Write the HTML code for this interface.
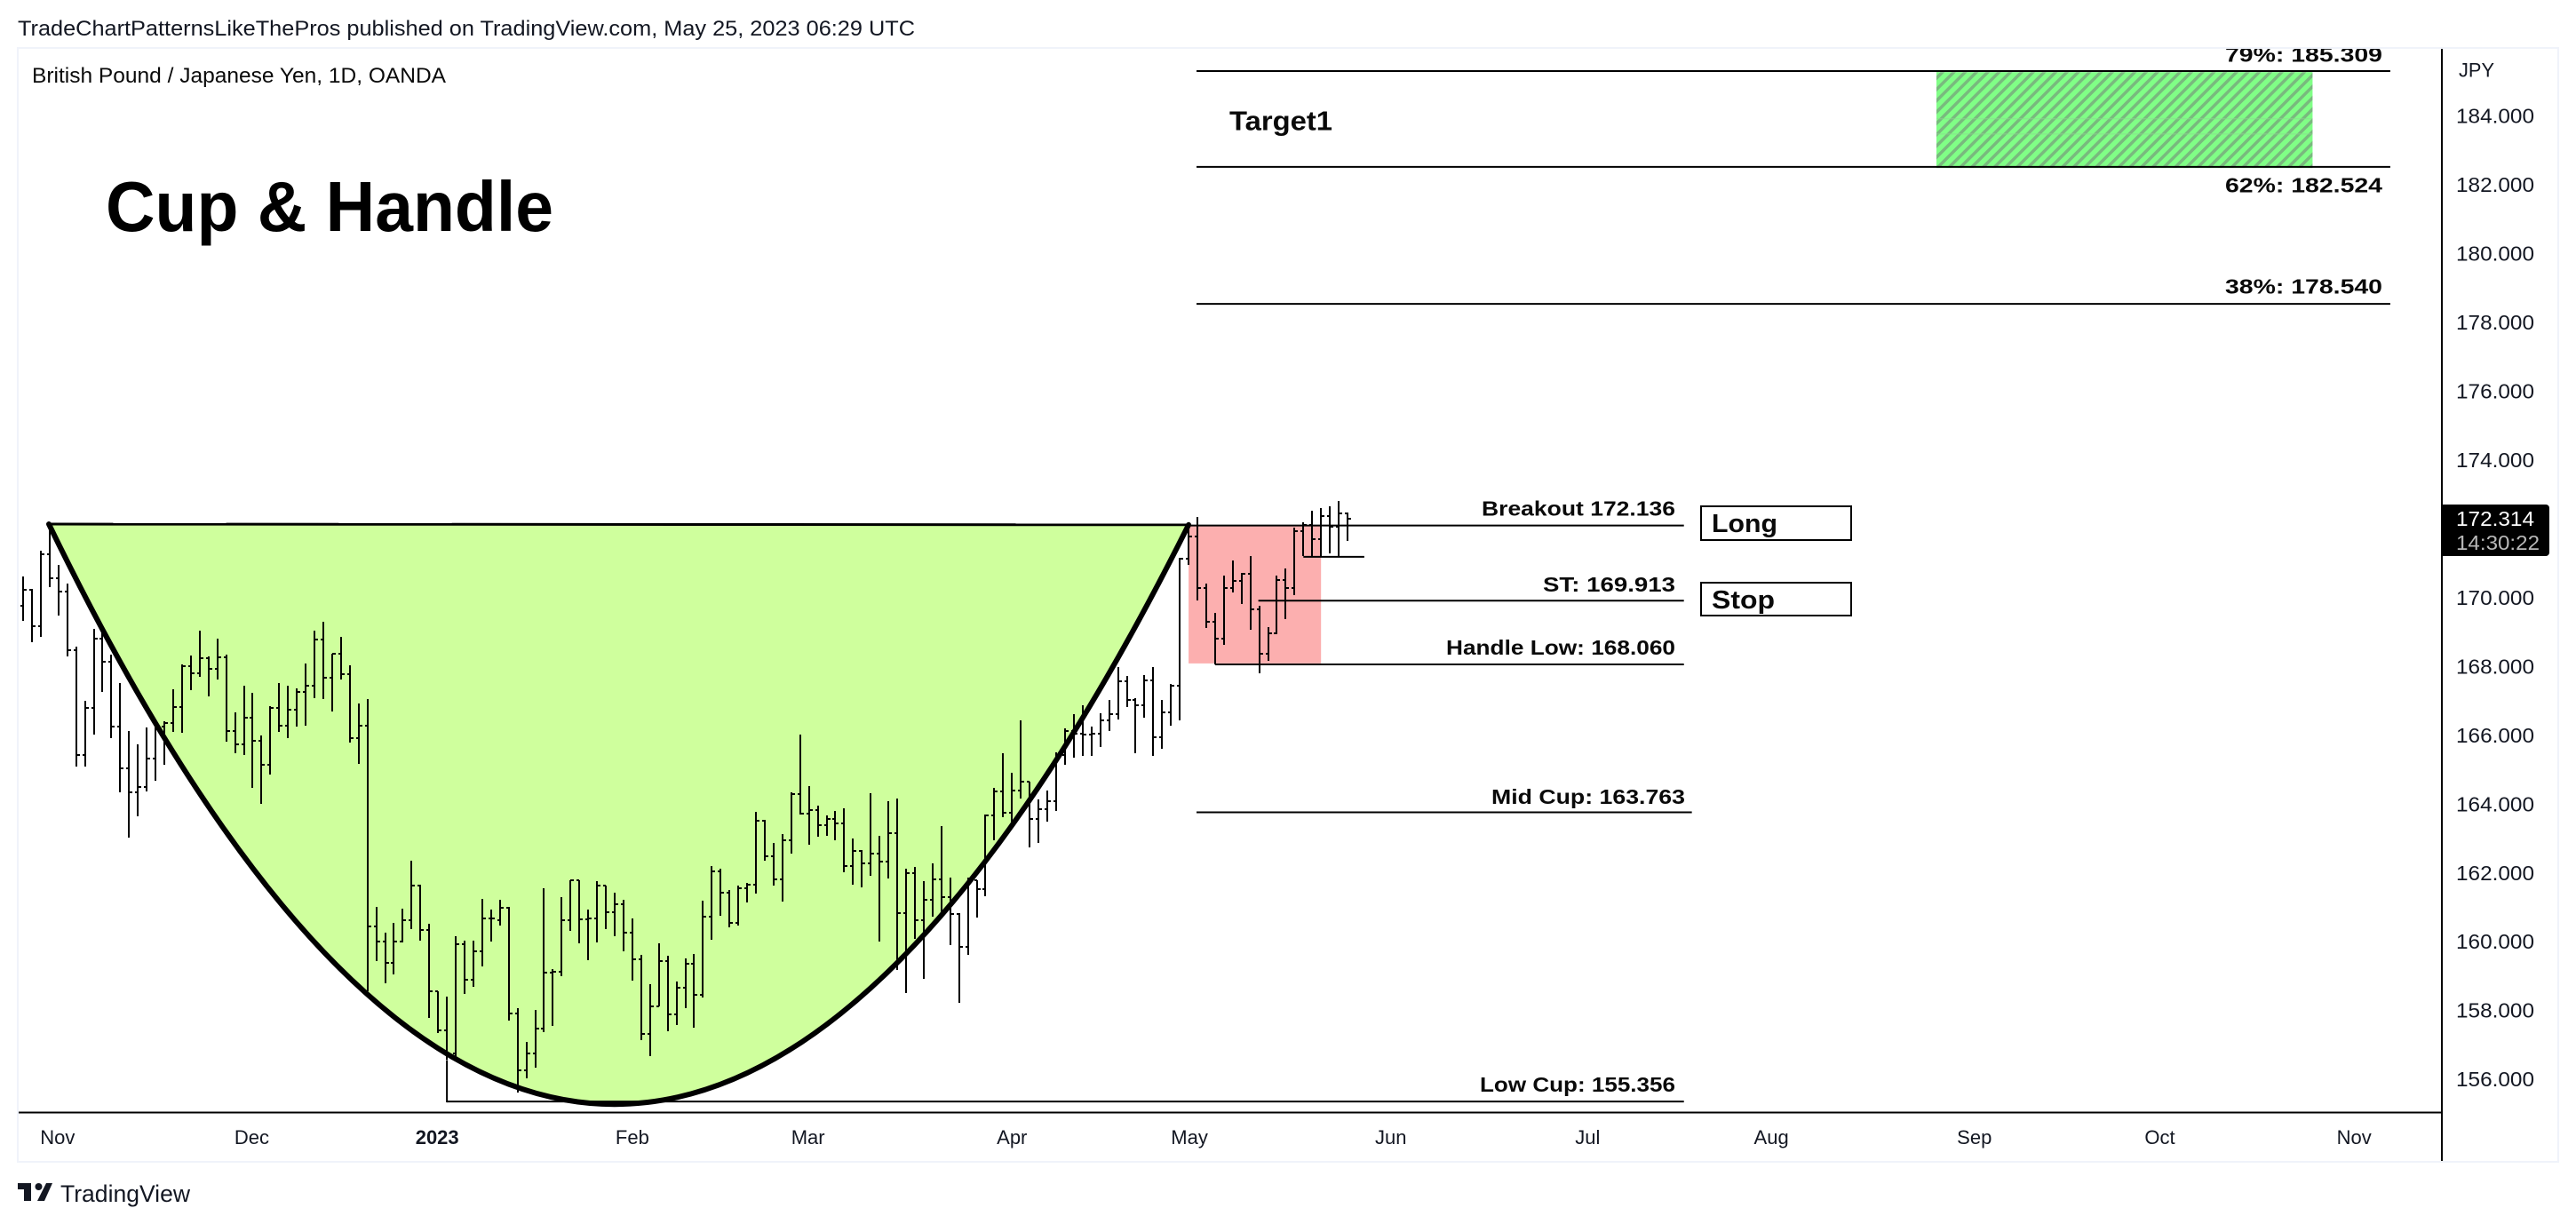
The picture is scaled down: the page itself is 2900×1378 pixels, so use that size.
<!DOCTYPE html>
<html lang="en">
<head>
<meta charset="utf-8">
<title>GBPJPY Cup and Handle</title>
<style>
html,body{margin:0;padding:0;background:#fff;width:2900px;height:1378px;overflow:hidden}
svg{display:block;font-family:"Liberation Sans",sans-serif}
.lvl{font-weight:bold;font-size:23px;fill:#0a0a0a}
.ax{font-size:22px;fill:#131722}
</style>
</head>
<body>
<svg id="chart" xmlns="http://www.w3.org/2000/svg" width="2900" height="1378" viewBox="0 0 2900 1378">
  <defs>
    <pattern id="hatch" patternUnits="userSpaceOnUse" width="9" height="9" patternTransform="rotate(45)">
      <rect width="9" height="9" fill="#80ff86"/>
      <rect width="3.5" height="9" fill="#79b97e"/>
    </pattern>
    <clipPath id="paneClip"><rect x="21" y="55" width="2728" height="1197"/></clipPath>
  </defs>
  <rect width="2900" height="1378" fill="#fff"/>
  <text x="20" y="40" font-size="24" fill="#131722" textLength="1010" lengthAdjust="spacingAndGlyphs">TradeChartPatternsLikeThePros published on TradingView.com, May 25, 2023 06:29 UTC</text>

  <g id="underlay" clip-path="url(#paneClip)"></g>
  <g id="bars" shape-rendering="crispEdges"></g>
  <g id="overlay" clip-path="url(#paneClip)"></g>

  <text x="36" y="93" font-size="24" fill="#0a0a0a" textLength="466" lengthAdjust="spacingAndGlyphs">British Pound / Japanese Yen, 1D, OANDA</text>
  <text x="119" y="260" font-size="80" font-weight="bold" fill="#000" textLength="504" lengthAdjust="spacingAndGlyphs">Cup &amp; Handle</text>

  <text x="1384" y="146.5" font-size="31" font-weight="bold" fill="#0a0a0a" textLength="116" lengthAdjust="spacingAndGlyphs">Target1</text>
  <g clip-path="url(#paneClip)">
    <text class="lvl" x="2505" y="69.3" textLength="177" lengthAdjust="spacingAndGlyphs">79%: 185.309</text>
  </g>
  <text class="lvl" x="2505" y="216.7" textLength="177" lengthAdjust="spacingAndGlyphs">62%: 182.524</text>
  <text class="lvl" x="2505" y="330.7" textLength="177" lengthAdjust="spacingAndGlyphs">38%: 178.540</text>
  <text class="lvl" x="1668" y="580.7" textLength="218" lengthAdjust="spacingAndGlyphs">Breakout 172.136</text>
  <text class="lvl" x="1737" y="666" textLength="149" lengthAdjust="spacingAndGlyphs">ST: 169.913</text>
  <text class="lvl" x="1628" y="737" textLength="258" lengthAdjust="spacingAndGlyphs">Handle Low: 168.060</text>
  <text class="lvl" x="1679" y="905" textLength="218" lengthAdjust="spacingAndGlyphs">Mid Cup: 163.763</text>
  <text class="lvl" x="1666" y="1229" textLength="220" lengthAdjust="spacingAndGlyphs">Low Cup: 155.356</text>

  <rect x="1915" y="570" width="169" height="38" fill="#fff" stroke="#000" stroke-width="2"/>
  <text x="1927" y="599" font-size="29" font-weight="bold" fill="#0a0a0a" textLength="74" lengthAdjust="spacingAndGlyphs">Long</text>
  <rect x="1915" y="656" width="169" height="37" fill="#fff" stroke="#000" stroke-width="2"/>
  <text x="1927" y="685" font-size="29" font-weight="bold" fill="#0a0a0a" textLength="71" lengthAdjust="spacingAndGlyphs">Stop</text>

  <g id="axes"></g>

  <rect x="20" y="54" width="2860" height="1254" fill="none" stroke="#f0f3fa" stroke-width="2"/>
  <line x1="2749" y1="55" x2="2749" y2="1307" stroke="#000" stroke-width="2"/>
  <line x1="21" y1="1252.5" x2="2750" y2="1252.5" stroke="#000" stroke-width="2"/>
  <text class="ax" x="2768" y="86.5" textLength="40" lengthAdjust="spacingAndGlyphs">JPY</text>

  <path d="M2750 568H2866a4 4 0 0 1 4 4V622a4 4 0 0 1 -4 4H2750Z" fill="#000"/>
  <text x="2765" y="592" font-size="23" fill="#fff" textLength="88" lengthAdjust="spacingAndGlyphs">172.314</text>
  <text x="2765" y="619" font-size="23" fill="#b8b8b8" textLength="94" lengthAdjust="spacingAndGlyphs">14:30:22</text>

  <g fill="#131722">
    <path d="M20 1332H35V1352H27V1339H20Z"/>
    <circle cx="43.5" cy="1336" r="4"/>
    <path d="M52 1332H59L50 1352H42Z"/>
    <text x="68" y="1353" font-size="27" textLength="146" lengthAdjust="spacingAndGlyphs">TradingView</text>
  </g>
</svg>
<script>
const opens = [169.77,170.23,169.17,171.26,170.57,170.18,168.47,165.43,166.80,168.81,
168.15,166.26,165.05,164.34,164.50,165.33,166.25,166.37,166.83,168.02,
167.80,168.24,167.94,168.27,166.12,165.75,166.52,165.85,165.14,166.80,
166.29,166.75,167.27,167.45,168.79,167.68,168.38,167.78,165.92,166.29,
160.45,160.01,159.38,160.01,160.63,161.62,160.34,158.56,157.43,156.74,
159.94,158.90,159.72,160.68,160.63,160.99,157.92,156.27,156.74,157.48,
159.11,159.14,160.63,161.79,160.65,160.68,161.64,160.86,161.10,160.26,
159.50,157.33,158.13,159.45,157.90,158.67,159.37,158.46,160.74,162.05,
161.43,160.56,161.56,161.67,163.53,162.49,161.81,162.96,164.29,163.72,
163.83,163.39,163.57,163.45,162.21,162.65,162.28,162.56,162.34,163.16,
160.84,162.00,160.63,161.23,161.82,161.30,160.81,159.86,161.79,161.54,
163.66,164.38,163.75,164.40,164.66,163.57,163.85,164.09,165.43,166.12,
166.06,166.03,166.06,166.44,166.62,167.58,167.03,166.87,167.60,165.95,
166.68,167.43,171.13,171.79,170.29,169.31,168.82,170.29,170.49,170.69,
169.67,168.38,168.96,170.52,170.27,171.93,172.12,171.70,172.37,172.06,172.46];
const highs = [170.61,170.26,171.37,172.14,170.96,170.40,168.59,166.99,169.10,169.04,
168.34,167.51,166.12,165.73,166.22,166.29,166.40,167.34,168.05,168.31,
169.04,168.30,168.80,168.35,166.68,167.43,167.23,165.99,166.84,167.51,
167.43,167.36,168.08,169.03,169.29,168.38,168.85,168.03,166.92,167.05,
161.02,160.26,160.54,160.95,162.35,161.67,160.51,158.57,158.40,160.17,
160.04,160.02,161.24,160.93,161.21,161.00,158.06,157.08,158.03,161.55,
159.21,161.29,161.80,161.78,160.93,161.75,161.64,161.42,161.21,160.67,
159.61,158.76,159.95,159.58,158.84,159.51,159.64,161.19,162.19,162.11,
161.51,161.64,161.72,163.77,163.55,162.86,163.12,164.35,166.01,164.52,
163.95,163.66,163.79,163.87,162.99,162.67,164.31,163.07,164.08,164.15,
162.11,162.18,161.75,162.27,163.35,161.86,160.84,161.86,161.79,163.69,
164.46,165.47,164.91,166.43,164.66,164.13,164.39,165.50,166.19,166.61,
166.87,166.25,166.63,167.02,167.98,167.72,167.09,167.74,167.98,167.02,
167.50,171.17,172.14,172.34,170.40,169.55,170.64,171.07,170.71,171.20,
169.76,169.14,170.64,170.84,172.03,172.18,172.52,172.60,172.65,172.80,172.47];
const lows = [169.32,168.70,168.85,170.32,169.47,168.30,165.08,165.10,166.01,167.27,
165.93,164.35,163.02,163.65,164.38,164.69,165.15,166.10,166.08,167.32,
167.71,167.14,167.61,165.82,165.49,165.44,164.48,164.02,164.87,166.11,
165.93,166.26,166.29,167.09,167.06,166.70,167.61,165.78,165.18,158.56,
159.45,158.78,159.04,159.99,160.38,160.02,157.79,157.34,156.56,156.65,
158.49,158.70,159.27,160.01,160.48,157.70,155.62,156.04,156.35,157.36,
157.54,159.01,160.32,159.96,159.47,159.99,160.38,160.17,159.73,158.88,
157.15,156.68,158.13,157.41,157.59,158.08,157.51,158.39,160.07,160.76,
160.43,160.48,161.15,161.41,162.36,161.64,161.18,162.57,163.70,162.83,
163.04,163.09,162.96,162.03,161.67,161.59,161.92,160.01,161.85,159.19,
158.52,160.09,158.93,160.74,160.78,159.91,158.23,159.63,160.71,161.33,
162.96,163.61,163.41,164.15,162.75,162.88,163.50,163.79,165.15,165.36,
165.39,165.39,165.67,166.13,166.47,166.81,165.49,166.52,165.39,165.62,
166.29,166.44,170.96,169.93,169.13,168.05,168.64,170.16,169.83,169.08,
167.81,168.17,168.93,169.39,170.08,171.20,171.20,171.20,171.28,171.20,171.66];
const closes = [170.23,169.17,171.26,170.57,170.18,168.47,165.43,166.80,168.81,168.15,
166.26,165.05,164.34,164.50,165.33,166.25,166.37,166.83,168.02,167.80,
168.24,167.94,168.27,166.12,165.75,166.52,165.85,165.14,166.80,166.29,
166.75,167.27,167.45,168.79,167.68,168.38,167.78,165.92,166.29,160.45,
160.01,159.38,160.01,160.63,161.62,160.34,158.56,157.43,156.74,159.94,
158.90,159.72,160.68,160.68,160.99,157.92,156.27,156.74,157.48,159.11,
159.14,160.63,161.79,160.65,160.68,161.64,160.86,161.10,160.26,159.50,
157.33,158.13,159.45,157.90,158.67,159.37,158.46,160.74,162.05,161.43,
160.56,161.56,161.67,163.53,162.49,161.81,162.96,164.29,163.72,163.83,
163.39,163.57,163.45,162.21,162.65,162.28,162.56,162.34,163.16,160.84,
162.00,160.63,161.23,161.82,161.30,160.81,159.86,161.79,161.54,163.66,
164.38,163.75,164.40,164.66,163.57,163.85,164.09,165.43,166.12,166.06,
166.03,166.06,166.44,166.62,167.58,167.03,166.87,167.60,165.95,166.68,
167.43,171.13,171.79,170.29,169.31,168.82,170.29,170.49,170.69,169.67,
168.38,168.96,170.52,170.27,171.93,172.12,171.70,172.37,172.06,172.46,172.30];

const priceTicks = [184,182,180,178,176,174,170,168,166,164,162,160,158,156];
const monthLabels = ["Nov","Dec","2023","Feb","Mar","Apr","May","Jun","Jul","Aug","Sep","Oct","Nov"];
const monthBars = [3.9,25.9,46.9,69,88.9,112,132.1,154.9,177.2,198,221,242,264];

const levelNames = ["fib-79","fib-62","fib-38","breakout","stop","handle-low","mid-cup","low-cup","breakout-retest"];
const levelPrices = [185.309,182.524,178.54,172.10,169.913,168.06,163.763,155.356,171.19];
const levelStartBars = [132.9,132.9,132.9,132,139.9,135,132.9,48,145];
const levelEndBars = [268.1,268.1,268.1,188.1,188.1,188.1,189,188.1,151.9];

const cupBars = [2.92,66.5,132];
const cupPrices = [172.14,138.42,172.12];
const handleZoneBars = [132,147];
const handleZonePrices = [172.10,168.09];
const targetZoneBars = [216.7,259.3];
const targetZonePrices = [185.28,182.49];
const targetSeamPrices = [183.92,183.48];

const NS = "http://www.w3.org/2000/svg";
function xAt(i){ return 26 + 9.94 * i; }
function yAt(p){ return 80 + (185.309 - p) * 38.73; }
function make(tag, parent, attrs){
  const el = document.createElementNS(NS, tag);
  for (const k in attrs) el.setAttribute(k, attrs[k]);
  parent.appendChild(el);
  return el;
}

const under = document.getElementById("underlay");
const over = document.getElementById("overlay");
const barsG = document.getElementById("bars");
const axes = document.getElementById("axes");

const cupD = "M" + xAt(cupBars[0]) + " " + yAt(cupPrices[0]) + " Q" + xAt(cupBars[1]) + " " + yAt(cupPrices[1]) + " " + xAt(cupBars[2]) + " " + yAt(cupPrices[2]);
const cupFill = make("path", under, {d: cupD + " Z", fill: "#cfff9d"});



const handleZone = make("rect", under, {
  x: xAt(handleZoneBars[0]), y: yAt(handleZonePrices[0]),
  width: xAt(handleZoneBars[1]) - xAt(handleZoneBars[0]),
  height: yAt(handleZonePrices[1]) - yAt(handleZonePrices[0]), fill: "#fcafaf"});



closes.forEach(function(c, i){
  const x = Math.round(xAt(i));
  const yH = Math.round(yAt(highs[i])), yL = Math.round(yAt(lows[i]));
  const yO = Math.round(yAt(opens[i])), yC = Math.round(yAt(c));
  const d = "M" + (x-1) + " " + yH + "H" + (x+1) + "V" + yL + "H" + (x-1) + "Z" +
    "M" + (x-3) + " " + (yO-1) + "H" + x + "V" + (yO+1) + "H" + (x-3) + "Z" +
    "M" + x + " " + (yC-1) + "H" + (x+4) + "V" + (yC+1) + "H" + x + "Z";
  const bar = make("path", barsG, {d: d, fill: "#000"});
  
  
});

const targetZone = make("rect", over, {
  x: xAt(targetZoneBars[0]), y: yAt(targetZonePrices[0]),
  width: xAt(targetZoneBars[1]) - xAt(targetZoneBars[0]),
  height: yAt(targetZonePrices[1]) - yAt(targetZonePrices[0]), fill: "url(#hatch)"});



targetSeamPrices.forEach(function(p){
  const seam = make("line", over, {
    x1: xAt(targetZoneBars[0]), x2: xAt(targetZoneBars[1]),
    y1: yAt(p), y2: yAt(p), stroke: "#8fd592", "stroke-width": 1, "stroke-opacity": 0.7});
  
  
});

levelPrices.forEach(function(p, i){
  const ln = make("line", over, {
    x1: xAt(levelStartBars[i]), x2: xAt(levelEndBars[i]),
    y1: yAt(p), y2: yAt(p), stroke: "#000", "stroke-width": 2});
  
  
});

const lowDrop = make("line", over, {
  x1: xAt(levelStartBars[7]), x2: xAt(levelStartBars[7]),
  y1: yAt(lows[48]), y2: yAt(levelPrices[7]) + 1, stroke: "#000", "stroke-width": 2});



const rim = make("line", over, {
  x1: xAt(cupBars[0]), y1: yAt(cupPrices[0]), x2: xAt(cupBars[2]), y2: yAt(cupPrices[2]),
  stroke: "#000", "stroke-width": 3});



const cupCurve = make("path", over, {d: cupD, fill: "none", stroke: "#000", "stroke-width": 6, "stroke-linecap": "round"});



priceTicks.forEach(function(p){
  const t = make("text", axes, {x: 2765, y: yAt(p) + 8, "font-size": 23, fill: "#131722", textLength: 88, lengthAdjust: "spacingAndGlyphs"});
  
  
  t.textContent = p.toFixed(3);
});

monthLabels.forEach(function(m, i){
  const t = make("text", axes, {x: xAt(monthBars[i]), y: 1288, "text-anchor": "middle", "font-size": 22, fill: "#131722"});
  
  
  if (m === "2023") t.setAttribute("font-weight", "bold");
  t.textContent = m;
});
</script>
</body>
</html>
